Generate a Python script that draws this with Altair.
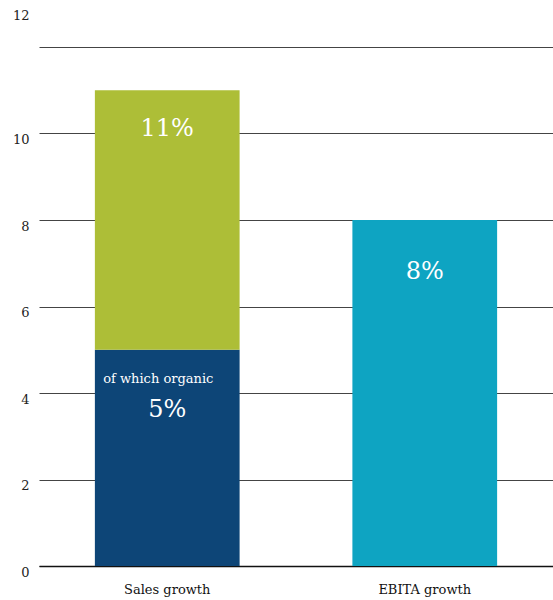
import altair as alt
import pandas as pd

categories = ["Sales growth", "EBITA growth"]
segments = ["organic", "total", "ebita"]
seg_category = ["Sales growth", "Sales growth", "EBITA growth"]
seg_start = [0, 5, 0]
seg_end = [5, 11, 8]
seg_colors = ["#0d4577", "#adbe37", "#0ea4c2"]
y_ticks = [0, 2, 4, 6, 8, 10, 12]

organic_value = 5
sales_value = 11
ebita_value = 8

FONT = "DejaVu Serif"

bars_df = pd.DataFrame({
    "category": seg_category,
    "segment": segments,
    "start": seg_start,
    "end": seg_end,
})

x_enc = alt.X(
    "category:N",
    sort=categories,
    scale=alt.Scale(paddingInner=0.438, paddingOuter=0.217),
    axis=alt.Axis(
        title=None, labelAngle=0, ticks=False, domain=True, domainColor="#111111",
        domainWidth=1.5, labelFont=FONT, labelFontSize=13, labelColor="#111111",
        labelPadding=17, labelBaseline="top",
    ),
)

bars = alt.Chart(bars_df).mark_bar().encode(
    x=x_enc,
    y=alt.Y(
        "start:Q",
        scale=alt.Scale(domain=[0, 12], nice=False),
        axis=alt.Axis(
            title=None, values=y_ticks, domain=False, ticks=False, grid=True,
            gridColor="#444444", gridWidth=1, labelFont=FONT, labelFontSize=13,
            labelColor="#222222", labelPadding=10,
            labelOffset={"condition": {"test": "datum.value == 12", "value": -32}, "value": 6},
        ),
    ),
    y2="end:Q",
    color=alt.Color("segment:N", scale=alt.Scale(domain=segments, range=seg_colors), legend=None),
)

def label(cat, val, text, size, dy, dx=0):
    df = pd.DataFrame({"category": [cat], "v": [val], "t": [text]})
    return alt.Chart(df).mark_text(
        font=FONT, fontSize=size, color="white", dy=dy, dx=dx, baseline="middle", align="center"
    ).encode(
        x=alt.X("category:N", sort=categories),
        y=alt.Y("v:Q"),
        text="t:N",
    )

chart = alt.layer(
    bars,
    label("Sales growth", sales_value, "11%", 24, 39),
    label("EBITA growth", ebita_value, "8%", 24, 52),
    label("Sales growth", organic_value, "of which organic", 13, 29, -9),
    label("Sales growth", organic_value, "5%", 24, 60),
).properties(
    width=514,
    height=519,
    autosize=alt.AutoSizeParams(type="none"),
    padding={"left": 39, "top": 47, "right": 0, "bottom": 34},
).configure(background="white").configure_view(stroke=None)

chart.save("out.html", embed_options={"renderer": "svg", "actions": False})
